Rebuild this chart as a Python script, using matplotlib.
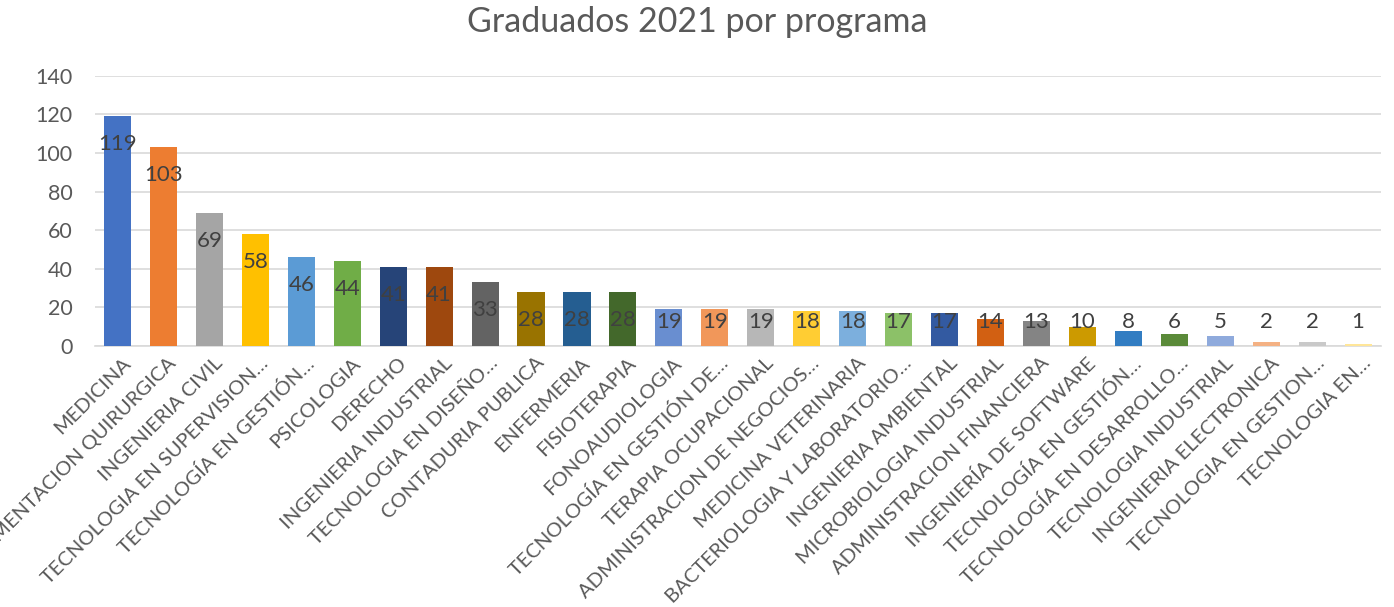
import matplotlib
matplotlib.use('Agg')
import matplotlib.pyplot as plt
import matplotlib.transforms as mtransforms
import numpy as np

programas = [
    "MEDICINA",
    "INSTRUMENTACION QUIRURGICA",
    "INGENIERIA CIVIL",
    "TECNOLOGIA EN SUPERVISION…",
    "TECNOLOGÍA EN GESTIÓN…",
    "PSICOLOGIA",
    "DERECHO",
    "INGENIERIA INDUSTRIAL",
    "TECNOLOGIA EN DISEÑO…",
    "CONTADURIA PUBLICA",
    "ENFERMERIA",
    "FISIOTERAPIA",
    "FONOAUDIOLOGIA",
    "TECNOLOGÍA EN GESTIÓN DE…",
    "TERAPIA OCUPACIONAL",
    "ADMINISTRACION DE NEGOCIOS…",
    "MEDICINA VETERINARIA",
    "BACTERIOLOGIA Y LABORATORIO…",
    "INGENIERIA AMBIENTAL",
    "MICROBIOLOGIA INDUSTRIAL",
    "ADMINISTRACION FINANCIERA",
    "INGENIERÍA DE SOFTWARE",
    "TECNOLOGÍA EN GESTIÓN…",
    "TECNOLOGÍA EN DESARROLLO…",
    "TECNOLOGIA INDUSTRIAL",
    "INGENIERIA ELECTRONICA",
    "TECNOLOGIA EN GESTION…",
    "TECNOLOGIA EN…",
]
graduados = [119, 103, 69, 58, 46, 44, 41, 41, 33, 28, 28, 28, 19, 19, 19,
             18, 18, 17, 17, 14, 13, 10, 8, 6, 5, 2, 2, 1]
colores = ["#4472C4", "#ED7D31", "#A5A5A5", "#FFC000", "#5B9BD5", "#70AD47",
           "#264478", "#9E480E", "#636363", "#997300", "#255E91", "#43682B",
           "#698ED0", "#F1975A", "#B7B7B7", "#FFCD33", "#7CAFDD", "#8CC168",
           "#335AA1", "#D26012", "#848484", "#CC9A00", "#327DC2", "#5A8A39",
           "#8FAADC", "#F4B183", "#C9C9C9", "#FFE699"]

plt.rcParams['font.family'] = ['Lato', 'DejaVu Sans']

fig = plt.figure(figsize=(13.94, 6.07), dpi=100)
ax = fig.add_axes([0.0678, 0.430, 0.9229, 0.4453])

x = np.arange(len(graduados))
ax.bar(x, graduados, width=0.59, color=colores, zorder=3)

# etiquetas de valor (inside end, sin bajar del eje)
for xi, v in zip(x, graduados):
    y_lab = max(v - 14.5, 12.4)
    ax.text(xi, y_lab, str(v), ha='center', va='center', fontsize=16,
            color='#404040', zorder=4)

ax.set_xlim(-0.5, len(graduados) - 0.5)
ax.set_ylim(0, 140)
ax.set_yticks(np.arange(0, 141, 20))
ax.yaxis.grid(True, color='#D9D9D9', linewidth=1.2, zorder=0)
ax.tick_params(axis='y', length=0, labelsize=15.5, labelcolor='#595959', pad=16)
ax.tick_params(axis='x', length=0, labelsize=14.5, labelcolor='#595959', pad=6)

ax.set_xticks(x)
ax.set_xticklabels(programas, rotation=45, ha='right', rotation_mode='anchor')
desplaza = mtransforms.ScaledTranslation(3 / 72, 0, fig.dpi_scale_trans)
for lab in ax.get_xticklabels():
    lab.set_transform(lab.get_transform() + desplaza)

for side in ['left', 'right', 'top']:
    ax.spines[side].set_visible(False)
ax.spines['bottom'].set_color('#D9D9D9')
ax.spines['bottom'].set_linewidth(1.2)

fig.text(0.5, 0.963, "Graduados 2021 por programa", ha='center', va='center',
         fontsize=24.5, color='#595959')

fig.savefig("out.png", dpi=100)
